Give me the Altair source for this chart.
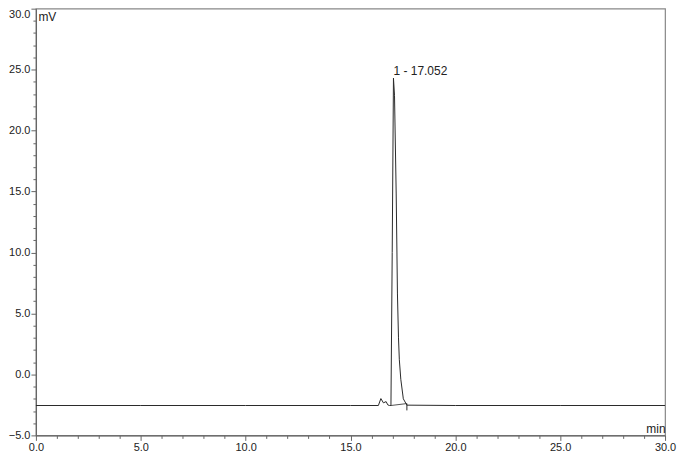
import altair as alt
import pandas as pd

# Chromatogram signal (time in min, signal in mV)
times = [0.0, 5.0, 10.0, 15.0, 16.33, 16.45, 16.57, 16.70, 16.78, 16.86, 16.93,
         16.99, 17.05, 17.10, 17.18, 17.24, 17.29, 17.33, 17.40, 17.52, 17.69,
         20.0, 25.0, 30.0]
signal = [-2.55, -2.55, -2.55, -2.55, -2.55, -1.98, -2.33, -2.23, -2.50, -2.55, -2.55,
          10.0, 24.30, 22.90, 14.80, 6.60, 3.00, 1.20, -0.40, -2.00, -2.52,
          -2.55, -2.55, -2.55]

# Integration baseline of peak 1
base_t = [16.93, 17.69]
base_v = [-2.55, -2.39]

# Peak end marker
marker_t = [17.69]
marker_top = [-2.39]
marker_bottom = [-2.95]

# Peak annotation
peak_t = [17.05]
peak_v = [24.30]
peak_label = ["1 - 17.052"]

x_ticks = [float(v) for v in range(0, 31)]
y_ticks = [float(v) for v in range(-5, 31)]

df = pd.DataFrame({"t": times, "v": signal})
df_base = pd.DataFrame({"t": base_t, "v": base_v})
df_marker = pd.DataFrame({"t": marker_t, "v": marker_top, "v2": marker_bottom})
df_peak = pd.DataFrame({"t": peak_t, "v": peak_v, "label": peak_label})

FONT = "Liberation Sans"
AX = "#666666"

x_scale = alt.Scale(domain=[0, 30], nice=False, zero=False)
y_scale = alt.Scale(domain=[-5, 30], nice=False, zero=False)

x_axis = alt.Axis(
    values=x_ticks,
    tickCount=100,
    labelExpr="datum.value % 5 === 0 ? format(datum.value, '.1f') : ''",
    labelOverlap=False,
    labelFlush=False,
    tickSize={"condition": {"test": "datum.value % 5 === 0", "value": 5}, "value": 3},
    labelPadding=1,
    title="min",
    titleX=631, titleY=-7, titleAlign="right", titleBaseline="middle",
    titleFontWeight="normal", titleFontSize=12, titleFont=FONT, titleColor="#222222",
    grid=False,
)
y_axis = alt.Axis(
    values=y_ticks,
    tickCount=100,
    labelExpr="datum.value % 5 === 0 ? format(datum.value, '.1f') : ''",
    labelOverlap=False,
    labelFlush=False,
    labelBaseline={"condition": {"test": "datum.value === 30", "value": "top"}, "value": "middle"},
    tickSize={"condition": {"test": "datum.value % 5 === 0", "value": 5}, "value": 3},
    labelPadding=1,
    title="mV",
    titleAngle=0, titleX=2, titleY=8, titleAlign="left", titleBaseline="middle",
    titleFontWeight="normal", titleFontSize=12, titleFont=FONT, titleColor="#222222",
    grid=False,
)

line = alt.Chart(df).mark_line(color="#2a2a2a", strokeWidth=1).encode(
    x=alt.X("t:Q", scale=x_scale, axis=x_axis),
    y=alt.Y("v:Q", scale=y_scale, axis=y_axis),
    order="t:Q",
)

base = alt.Chart(df_base).mark_line(color="#2a2a2a", strokeWidth=0.8).encode(
    x="t:Q", y="v:Q"
)

marker = alt.Chart(df_marker).mark_rule(color="#2a2a2a", strokeWidth=1).encode(
    x="t:Q", y="v:Q", y2="v2:Q"
)

label = alt.Chart(df_peak).mark_text(
    align="left", baseline="middle", dx=0, dy=-7, font=FONT, fontSize=12, color="#222222"
).encode(x="t:Q", y="v:Q", text="label:N")

chart = alt.layer(line, base, marker, label).properties(
    width=631,
    height=428,
    autosize=alt.AutoSizeParams(type="none"),
    padding={"left": 28, "top": 0, "right": 12, "bottom": 16},
    background="white",
).configure_view(
    stroke="#888888", strokeWidth=1.2
).configure_axis(
    labelFont=FONT, labelFontSize=11, labelColor="#222222",
    domainColor=AX, tickColor=AX, domainWidth=1.2, tickWidth=1,
)

chart.save("out.html", embed_options={"renderer": "svg", "actions": False})
